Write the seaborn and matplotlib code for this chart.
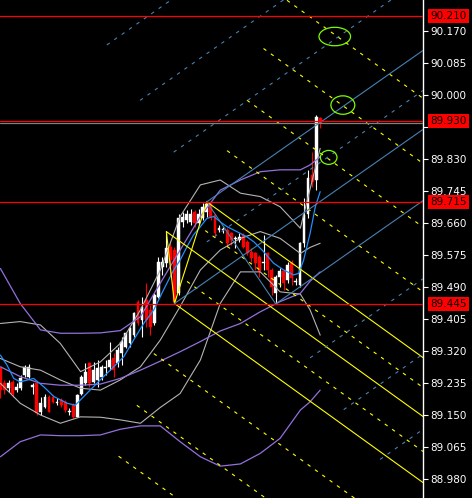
import numpy as np
import pandas as pd
import matplotlib
matplotlib.use("Agg")
import matplotlib.pyplot as plt
import seaborn as sns
from matplotlib.patches import Ellipse, Rectangle

# candles, bar 0 .. 79
opens = [89.274, 89.234, 89.221, 89.238, 89.216, 89.221, 89.256, 89.252, 89.225, 89.234,
         89.159, 89.172, 89.199, 89.199, 89.183, 89.190, 89.185, 89.159, 89.176, 89.145,
         89.207, 89.234, 89.287, 89.238, 89.243, 89.252, 89.274, 89.278, 89.300, 89.287,
         89.314, 89.331, 89.340, 89.362, 89.451, 89.402, 89.455, 89.429, 89.393, 89.464,
         89.544, 89.553, 89.597, 89.588, 89.473, 89.663, 89.668, 89.663, 89.690, 89.659,
         89.672, 89.690, 89.708, 89.681, 89.641, 89.641, 89.641, 89.632, 89.616, 89.615,
         89.628, 89.610, 89.584, 89.579, 89.570, 89.553, 89.579, 89.535, 89.473, 89.517,
         89.531, 89.508, 89.553, 89.504, 89.495, 89.606, 89.685, 89.787, 89.774, 89.938]
highs = [89.278, 89.243, 89.243, 89.243, 89.234, 89.256, 89.283, 89.285, 89.234, 89.238,
         89.199, 89.207, 89.203, 89.203, 89.194, 89.194, 89.190, 89.168, 89.181, 89.207,
         89.256, 89.287, 89.291, 89.291, 89.296, 89.283, 89.296, 89.345, 89.314, 89.331,
         89.358, 89.371, 89.384, 89.424, 89.455, 89.464, 89.500, 89.442, 89.473, 89.570,
         89.570, 89.637, 89.606, 89.597, 89.685, 89.690, 89.694, 89.696, 89.694, 89.696,
         89.714, 89.716, 89.714, 89.685, 89.654, 89.650, 89.646, 89.637, 89.625, 89.632,
         89.632, 89.615, 89.593, 89.584, 89.575, 89.628, 89.584, 89.539, 89.522, 89.539,
         89.535, 89.557, 89.561, 89.513, 89.610, 89.725, 89.801, 89.849, 89.947, 89.942]
lows = [89.194, 89.207, 89.212, 89.199, 89.212, 89.216, 89.252, 89.247, 89.207, 89.150,
        89.150, 89.168, 89.159, 89.181, 89.176, 89.172, 89.159, 89.150, 89.141, 89.144,
        89.203, 89.230, 89.225, 89.234, 89.225, 89.243, 89.256, 89.269, 89.252, 89.278,
        89.283, 89.327, 89.331, 89.358, 89.389, 89.358, 89.384, 89.362, 89.389, 89.460,
        89.522, 89.544, 89.522, 89.446, 89.469, 89.650, 89.659, 89.654, 89.650, 89.654,
        89.668, 89.677, 89.668, 89.622, 89.637, 89.632, 89.597, 89.601, 89.593, 89.610,
        89.593, 89.575, 89.557, 89.535, 89.517, 89.535, 89.517, 89.469, 89.445, 89.491,
        89.482, 89.500, 89.495, 89.495, 89.491, 89.597, 89.672, 89.756, 89.747, 89.911]
closes = [89.216, 89.216, 89.234, 89.207, 89.225, 89.247, 89.278, 89.278, 89.229, 89.154,
          89.181, 89.199, 89.159, 89.185, 89.185, 89.176, 89.163, 89.161, 89.145, 89.203,
          89.252, 89.265, 89.234, 89.269, 89.274, 89.278, 89.278, 89.296, 89.269, 89.322,
          89.345, 89.367, 89.380, 89.420, 89.393, 89.438, 89.402, 89.384, 89.469, 89.557,
          89.557, 89.593, 89.561, 89.451, 89.672, 89.677, 89.685, 89.685, 89.659, 89.685,
          89.703, 89.710, 89.677, 89.632, 89.646, 89.643, 89.606, 89.615, 89.620, 89.623,
          89.597, 89.579, 89.566, 89.553, 89.531, 89.557, 89.535, 89.491, 89.517, 89.531,
          89.500, 89.548, 89.513, 89.506, 89.606, 89.681, 89.778, 89.770, 89.942, 89.925]

# moving average (blue)
ma_bars = [0, 1.6, 3.3, 4.9, 8.2, 10.7, 13.2, 16.5, 18.5, 20.6, 23.0, 25.5, 28.0, 30.5,
           32.9, 35.4, 37.9, 40.3, 42.8, 44.4, 46.1, 47.7, 49.4, 51.0, 52.7, 54.3, 56.0,
           58.4, 60.9, 62.6, 65.0, 67.5, 70.0, 72.4, 73.7, 74.9, 76.5, 77.8, 79.0]
ma_vals = [89.309, 89.283, 89.247, 89.238, 89.247, 89.225, 89.199, 89.181, 89.176, 89.199,
           89.225, 89.252, 89.278, 89.305, 89.349, 89.393, 89.429, 89.482, 89.535, 89.561,
           89.597, 89.628, 89.650, 89.672, 89.677, 89.663, 89.650, 89.637, 89.623, 89.610,
           89.584, 89.553, 89.535, 89.522, 89.526, 89.561, 89.632, 89.703, 89.743]

# bollinger bands: short (gray) and long (purple)
band_bars = [0, 4.9, 9.9, 14.8, 19.8, 24.7, 29.6, 34.6, 39.5, 44.4, 49.4, 54.3, 59.3,
             64.2, 69.1, 74.1, 76.5, 79.0]
bb_upper = [89.393, 89.398, 89.389, 89.340, 89.265, 89.291, 89.340, 89.429, 89.535, 89.677,
            89.761, 89.774, 89.739, 89.730, 89.703, 89.646, 89.750, 89.858]
bb_mid = [89.300, 89.278, 89.269, 89.243, 89.221, 89.216, 89.243, 89.278, 89.349, 89.438,
          89.535, 89.588, 89.619, 89.637, 89.619, 89.579, 89.595, 89.606]
bb_lower = [89.234, 89.181, 89.150, 89.128, 89.145, 89.144, 89.137, 89.128, 89.170, 89.207,
            89.296, 89.446, 89.530, 89.530, 89.477, 89.471, 89.429, 89.362]
slow_upper = [89.539, 89.446, 89.376, 89.367, 89.367, 89.368, 89.374, 89.411, 89.500, 89.588,
              89.677, 89.747, 89.774, 89.796, 89.801, 89.801, 89.814, 89.836]
slow_mid = [89.278, 89.252, 89.234, 89.229, 89.229, 89.232, 89.247, 89.269, 89.293, 89.318,
            89.345, 89.373, 89.393, 89.424, 89.451, 89.473, 89.505, 89.530]
slow_lower = [89.039, 89.079, 89.097, 89.095, 89.095, 89.097, 89.112, 89.121, 89.121, 89.079,
              89.039, 89.014, 89.020, 89.048, 89.088, 89.163, 89.185, 89.216]

# horizontal levels
red_levels = [90.210, 89.930, 89.715, 89.445]
tick_vals = [90.170, 90.085, 90.000, 89.915, 89.830, 89.745, 89.660, 89.575,
             89.490, 89.405, 89.320, 89.235, 89.150, 89.065, 88.980]
hidden_ticks = [89.915]   # label sits under the 89.930 box

# fork pivots (bar numbers) and channel lines (price at bar 80, first bar)
yel_slope = -0.007745
blue_slope = 0.00753
yel_dash_at80 = [90.180, 90.007, 89.838, 89.666, 89.412, 89.242, 88.987, 88.817, 88.647]
yel_dash_start = [70.8, 65.0, 60.9, 56.0, 50.6, 46.1, 37.9, 33.7, 29.2]
blue_dash_at80 = [90.537, 90.328, 90.128, 89.828, 89.328, 89.128, 88.928]
blue_dash_start = [26.3, 34.5, 42.8, 51.0, 76.5, 84.8, 93.8]

# green marks
ell_bars = [82.6, 84.6, 81.1]
ell_prices = [90.155, 89.973, 89.834]
ell_w = [7.8, 5.9, 4.1]
ell_h = [0.049, 0.049, 0.037]

sns.set_style("dark", {"axes.facecolor": "black", "figure.facecolor": "black"})
plt.rcParams["font.family"] = ["DejaVu Sans"]
plt.rcParams["lines.scale_dashes"] = False

fig = plt.figure(figsize=(4.72, 4.98), dpi=100)
ax = fig.add_axes([0, 0, 423 / 472, 1])
x_end = 104.4
ax.set_xlim(-0.1, x_end)
ax.set_ylim(88.9295, 90.252)

# candles
o = np.array(opens)
c = np.array(closes)
bars = np.arange(len(o))
col = np.where(c >= o, "white", "#FF0000")
ax.vlines(bars, lows, highs, colors=col, lw=0.8, zorder=3)
ax.bar(bars, np.maximum(np.abs(c - o), 0.0018), bottom=np.minimum(o, c), width=0.7,
       color=col, edgecolor=col, lw=0.3, zorder=3)

# indicators
bands = pd.DataFrame({"bar": band_bars, "bb_up": bb_upper, "bb_mid": bb_mid, "bb_lo": bb_lower,
                      "sl_up": slow_upper, "sl_mid": slow_mid, "sl_lo": slow_lower})
for name in ["bb_up", "bb_mid", "bb_lo"]:
    sns.lineplot(data=bands, x="bar", y=name, ax=ax, color="#B4B4B4", lw=0.8, zorder=4)
for name in ["sl_up", "sl_mid", "sl_lo"]:
    sns.lineplot(data=bands, x="bar", y=name, ax=ax, color="#9370DB", lw=0.9, zorder=4)
ma = pd.DataFrame({"bar": ma_bars, "ma": ma_vals})
sns.lineplot(data=ma, x="bar", y="ma", ax=ax, color="#1E90FF", lw=0.9, zorder=4)


def ray(x0, y0, slope, **kw):
    ax.plot([x0, x_end], [y0, y0 + slope * (x_end - x0)], **kw)


# yellow fork
p1 = (41, highs[41])
p2 = (43, lows[43])
p3 = (51, highs[51])
for p in [p1, p2, p3]:
    ray(p[0], p[1], yel_slope, color="yellow", lw=0.8, zorder=5)
ax.plot([p1[0], p2[0], p3[0]], [p1[1], p2[1], p3[1]], color="yellow", lw=0.8, zorder=5)
for st, lv in zip(yel_dash_start, yel_dash_at80):
    ray(st, lv + yel_slope * (st - 80), yel_slope, color="yellow", lw=0.8,
        ls=(0, (2.5, 4)), zorder=5)

# blue fork
p4 = (68, lows[68])
for p in [p3, p2, p4]:
    ray(p[0], p[1], blue_slope, color="#4682B4", lw=0.8, zorder=5)
ax.plot([p3[0], p4[0]], [p3[1], p4[1]], color="#4682B4", lw=0.8, zorder=5)
for st, lv in zip(blue_dash_start, blue_dash_at80):
    ray(st, lv + blue_slope * (st - 80), blue_slope, color="#4682B4", lw=0.8,
        ls=(0, (2.5, 4)), zorder=5)

for bx, by, w, h in zip(ell_bars, ell_prices, ell_w, ell_h):
    ax.add_patch(Ellipse((bx, by), w, h, fill=False, ec="#7CFC00", lw=0.9, zorder=6))

# horizontal lines
ax.axhline(closes[-1], color="#808080", lw=0.9, zorder=5)
for lv in red_levels:
    ax.axhline(lv, color="#FF0000", lw=0.9, zorder=6)

# right price scale
ax.grid(False)
ax.set_xlabel("")
ax.set_ylabel("")
ax.set_xticks([])
ax.yaxis.tick_right()
ax.set_yticks(tick_vals)
ax.set_yticklabels(["" if v in hidden_ticks else f"{v:.3f}" for v in tick_vals])
ax.tick_params(axis="y", colors="white", length=3.5, width=0.8, pad=1.5, labelsize=7.5,
               right=True, left=False)
for s in ["left", "top", "bottom"]:
    ax.spines[s].set_visible(False)
ax.spines["right"].set_color("white")
ax.spines["right"].set_linewidth(1)

tr = ax.get_yaxis_transform()
# bid marker peeking out under the 89.930 box
ax.add_patch(Rectangle((1.016, closes[-1] - 0.004), 0.088, 0.006, transform=tr,
                       fc="#808080", ec="none", clip_on=False, zorder=9))
for lv in red_levels:
    ax.text(1.017, lv, f"{lv:.3f}", transform=tr, ha="left", va="center", fontsize=7.5,
            color="black", clip_on=False, zorder=11,
            bbox=dict(boxstyle="square,pad=0.2", fc="#FF0000", ec="none"))

fig.savefig("out.png", dpi=100, facecolor="black")
